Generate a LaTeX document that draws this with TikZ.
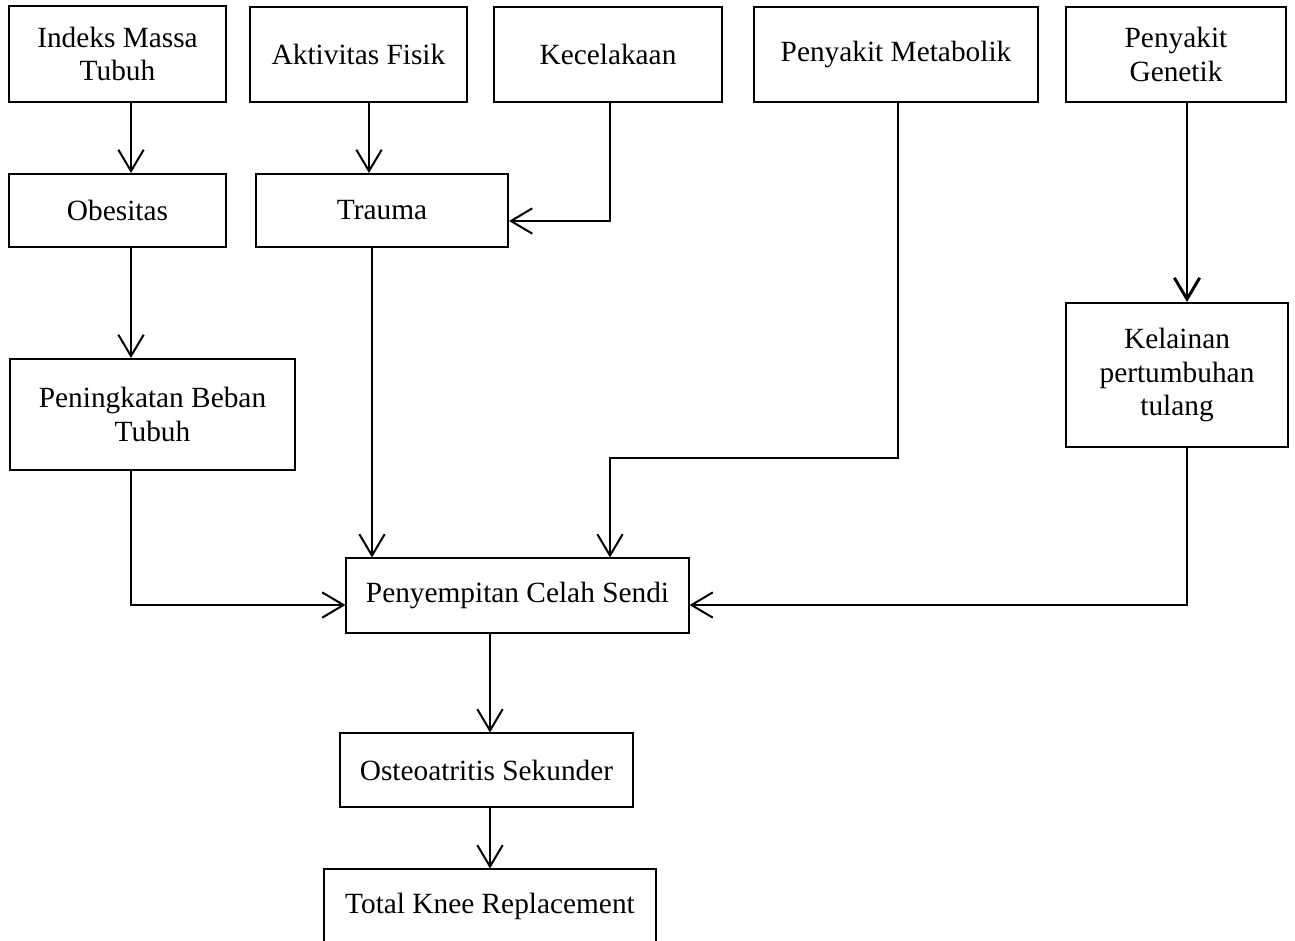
\documentclass[tikz,border=0pt]{standalone}
\usepackage{fontspec}
\setmainfont{Liberation Serif}
\usetikzlibrary{arrows.meta,calc}
\tikzset{>={Straight Barb[length=16pt,width=19pt]}}
\tikzset{
	kotak/.style={draw, line width=1.5pt, align=center, inner sep=0pt, font=\fontsize{22}{25}\selectfont},
	tipis/.style={kotak, line width=0.8pt},
	panah/.style={->, line width=1.5pt}
}

\begin{document}
\begin{tikzpicture}[x=0.75pt,y=-0.75pt]
		\useasboundingbox (0,0) rectangle (1295,940);
		\clip (0,0) rectangle (1295,940);
		\node[kotak, minimum width=162.75pt, minimum height=72pt] (imt) at (117.5,54) {Indeks Massa\\Tubuh};
		\node[kotak, minimum width=162.75pt, minimum height=71.25pt] (akt) at (358.5,54.5) {Aktivitas Fisik};
		\node[kotak, minimum width=171pt, minimum height=71.25pt] (kec) at (608,54.5) {Kecelakaan};
		\node[kotak, minimum width=213pt, minimum height=71.25pt] (pmet) at (896,54.5) {Penyakit Metabolik};
		\node[kotak, minimum width=165pt, minimum height=71.25pt] (pgen) at (1176,54.5) {Penyakit\\Genetik};
		\node[kotak, minimum width=162.75pt, minimum height=54.75pt] (obes) at (117.5,210.5) {Obesitas};
		\node[kotak, minimum width=189pt, minimum height=54.75pt] (trauma) at (382,210.5) {Trauma};
		\node[kotak, minimum width=213.75pt, minimum height=83.25pt] (beban) at (152.5,414.5) {Peningkatan Beban\\Tubuh};
		\node[kotak, minimum width=166.5pt, minimum height=108pt] (kelainan) at (1177,375) {Kelainan\\pertumbuhan\\tulang};
		\node[tipis, minimum width=257.25pt, minimum height=56.25pt] (celah) at (517.5,595.5) {Penyempitan Celah Sendi};
		\node[tipis, minimum width=219.75pt, minimum height=55.5pt] (osteo) at (486.5,770) {Osteoatritis Sekunder};
		\node[tipis, minimum width=249pt, minimum height=55.5pt] (tkr) at (490,906) {Total Knee Replacement};
		% kolom dan baris jalur panah
		\coordinate (k1) at (131,0);
		\coordinate (k2) at (369,0);
		\coordinate (k3) at (372,0);
		\coordinate (k4) at (610,0);
		\coordinate (k5) at (898,0);
		\coordinate (k6) at (1187,0);
		\coordinate (k7) at (490,0);
		\coordinate (b1) at (0,221);
		\coordinate (b2) at (0,458);
		\coordinate (b3) at (0,605);
		\draw[panah] (imt.south -| k1) -- (obes.north -| k1);
		\draw[panah] (obes.south -| k1) -- (beban.north -| k1);
		\draw[panah] (beban.south -| k1) |- (celah.west |- b3);
		\draw[panah] (akt.south -| k2) -- (trauma.north -| k2);
		\draw[panah] (kec.south -| k4) |- (trauma.east |- b1);
		\draw[panah] (trauma.south -| k3) -- (celah.north -| k3);
		\draw[panah] (pmet.south -| k5) |- (b2 -| k4) -- (celah.north -| k4);
		\draw[panah, line width=2.2pt] (pgen.south -| k6) -- (kelainan.north -| k6);
		\draw[panah] (kelainan.south -| k6) |- (celah.east |- b3);
		\draw[panah] (celah.south -| k7) -- (osteo.north -| k7);
		\draw[panah] (osteo.south -| k7) -- (tkr.north -| k7);
	\end{tikzpicture}
\end{document}
